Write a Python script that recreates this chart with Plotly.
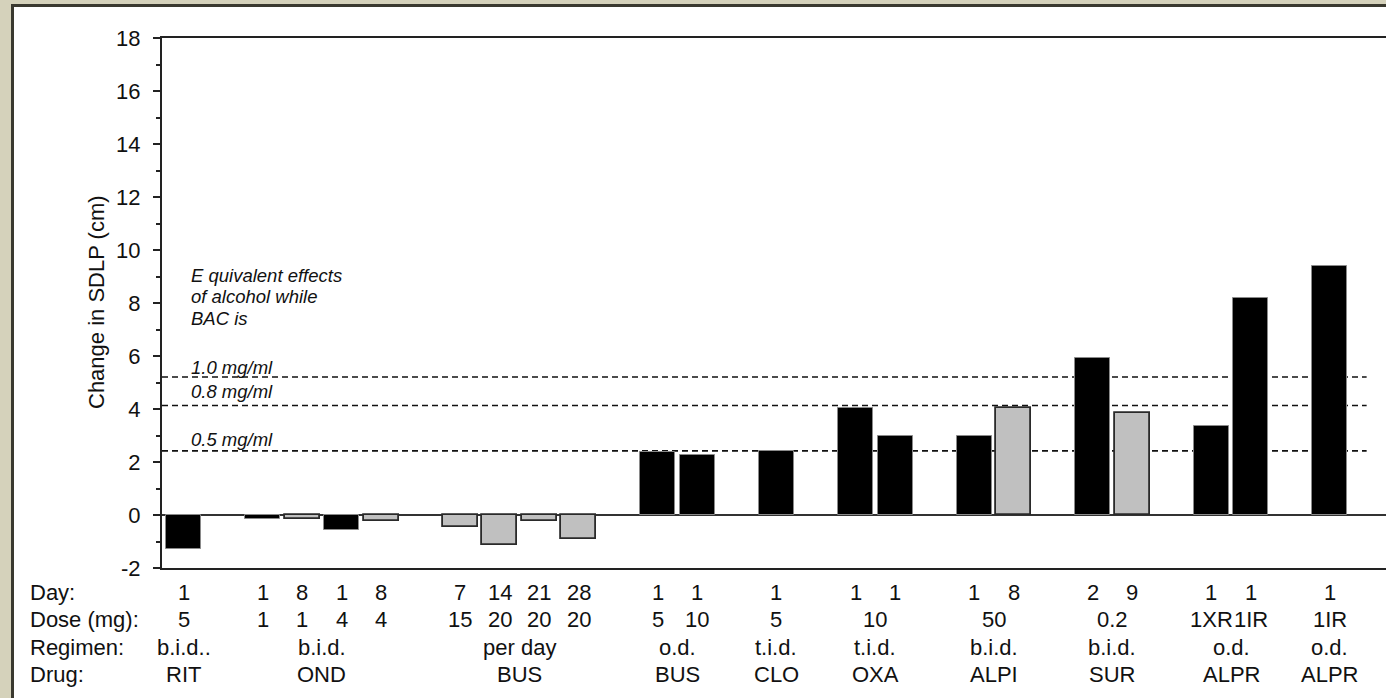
import plotly.graph_objects as go

# ---------------- data ----------------
drugs = ["RIT", "OND", "BUS", "BUS", "CLO", "OXA", "ALPI", "SUR", "ALPR", "ALPR"]
regimens = ["b.i.d..", "b.i.d.", "per day", "o.d.", "t.i.d.", "t.i.d.", "b.i.d.", "b.i.d.", "o.d.", "o.d."]
group_sizes = [1, 4, 4, 2, 1, 2, 2, 2, 2, 1]
days = ["1", "1", "8", "1", "8", "7", "14", "21", "28", "1", "1", "1", "1", "1", "1", "8", "2", "9", "1", "1", "1"]
doses = [["5"], ["1", "1", "4", "4"], ["15", "20", "20", "20"], ["5", "10"], ["5"],
         ["10"], ["50"], ["0.2"], ["1XR", "1IR"], ["1IR"]]
sdlp_change = [-1.30,
               -0.15, -0.15, -0.55, -0.22,
               -0.45, -1.15, -0.22, -0.92,
               2.38, 2.28,
               2.40,
               4.05, 2.98,
               2.98, 4.02,
               5.92, 3.85,
               3.34, 8.18,
               9.38]
# "A" = black bar, "R" = grey bar (repeated dosing)
bar_kind = ["A", "A", "R", "A", "R", "R", "R", "R", "R", "A", "A", "A", "A", "A", "A", "R", "A", "R", "A", "A", "A"]
bac_labels = ["1.0 mg/ml", "0.8 mg/ml", "0.5 mg/ml"]
bac_sdlp = [5.21, 4.13, 2.42]
y_ticks = [-2, 0, 2, 4, 6, 8, 10, 12, 14, 16, 18]
y_tick_text = ["-2", "0", "2", "4", "6", "8", "10", "12", "14", "16", "18"]
row_names = ["Day:", "Dose (mg):", "Regimen:", "Drug:"]
y_title = "Change in SDLP (cm)"
note_lines = ["E quivalent effects", "of alcohol while", "BAC is"]

# ---------------- layout constants ----------------
W, H = 1386, 698
L, T, R = 162, 38, 0
B = H - 568
PW, PH = W - L - R, H - T - B
FONT = "Liberation Sans, Arial, sans-serif"
TXT = "#111111"
FS = 22


def pxx(px):
    return (px - L) / PW


def pxy(py):
    return (H - B - py) / PH


# slot positions: one empty slot between groups
positions, group_pos = [], []
pos = 0
for n in group_sizes:
    ps = list(range(pos, pos + n))
    positions.extend(ps)
    group_pos.append(ps)
    pos += n + 1

slot_px = 39.53
x0 = -0.544
x_range = [x0, x0 + PW / slot_px]

fill_map = {"A": "#000000", "R": "#c0c0c0"}
line_map = {"A": "#8a8a8a", "R": "#2a2a2a"}
lw_map = {"A": 1, "R": 1.8}

fig = go.Figure()
for kind in ["A", "R"]:
    xs = [p for p, k in zip(positions, bar_kind) if k == kind]
    ys = [v for v, k in zip(sdlp_change, bar_kind) if k == kind]
    fig.add_trace(go.Bar(
        x=xs, y=ys, width=0.885,
        marker=dict(color=fill_map[kind], line=dict(color=line_map[kind], width=lw_map[kind])),
        showlegend=False, hoverinfo="x+y",
    ))

shapes = []
# outer frame
shapes.append(dict(type="rect", xref="paper", yref="paper",
                   x0=pxx(12.5), x1=pxx(1420), y0=pxy(5.5), y1=pxy(740),
                   fillcolor="white", line=dict(color="#3a392f", width=3), layer="below"))
# BAC reference lines
for v in bac_sdlp:
    shapes.append(dict(type="line", xref="x", yref="y", x0=x_range[0], x1=positions[-1] + 0.93,
                       y0=v, y1=v, line=dict(color="#111111", width=1.6, dash="6px,4px"), layer="below"))

annotations = []
# y-axis title
annotations.append(dict(text=y_title, xref="paper", yref="paper", x=pxx(96), y=pxy(302),
                        xanchor="center", yanchor="middle", textangle=-90, showarrow=False,
                        font=dict(family=FONT, size=FS, color=TXT)))
# note
for line, py in zip(note_lines, [275, 296.7, 318]):
    annotations.append(dict(text="<i>" + line + "</i>", xref="paper", yref="paper",
                            x=pxx(189), y=pxy(py), xanchor="left", yanchor="middle", align="left",
                            showarrow=False, font=dict(family=FONT, size=18.5, color=TXT)))
# BAC labels
bac_shift = [9, 14, 11]
for lab, v, s in zip(bac_labels, bac_sdlp, bac_shift):
    annotations.append(dict(text="<i>" + lab + "</i>", xref="paper", yref="y", x=pxx(189), y=v,
                            yshift=s, xanchor="left", yanchor="middle", showarrow=False,
                            font=dict(family=FONT, size=18.5, color=TXT)))

row_y = [pxy(592), pxy(619), pxy(647), pxy(674)]
for name, ry in zip(row_names, row_y):
    annotations.append(dict(text=name, xref="paper", yref="paper", x=pxx(28), y=ry,
                            xanchor="left", yanchor="middle", showarrow=False,
                            font=dict(family=FONT, size=FS, color=TXT)))


def row_ann(text, x, ry):
    return dict(text=text, xref="x", yref="paper", x=x, y=ry, xanchor="center", yanchor="middle",
                showarrow=False, font=dict(family=FONT, size=FS, color=TXT))


for p, d in zip(positions, days):
    annotations.append(row_ann(d, p, row_y[0]))
for gp, dl, reg, drug in zip(group_pos, doses, regimens, drugs):
    centre = sum(gp) / len(gp)
    if len(dl) == 1:
        annotations.append(row_ann(dl[0], centre, row_y[1]))
    else:
        for p, d in zip(gp, dl):
            annotations.append(row_ann(d, p, row_y[1]))
    annotations.append(row_ann(reg, centre, row_y[2]))
    annotations.append(row_ann(drug, centre, row_y[3]))

fig.update_layout(
    width=W, height=H,
    margin=dict(l=L, r=R, t=T, b=B, pad=0),
    paper_bgcolor="#d5d2bb",
    plot_bgcolor="white",
    bargap=0,
    shapes=shapes,
    annotations=annotations,
    font=dict(family=FONT, size=FS, color=TXT),
    xaxis=dict(range=x_range, showticklabels=False, ticks="", showgrid=False, zeroline=False,
               showline=True, linecolor="#222222", linewidth=2, mirror=True, fixedrange=True),
    yaxis=dict(range=[-2, 18], tickmode="array", tickvals=y_ticks, ticktext=y_tick_text,
               ticks="outside", ticklen=7, tickwidth=1.5,
               tickcolor="#222222", showgrid=False, showline=True, linecolor="#222222", linewidth=2,
               zeroline=True, zerolinecolor="#333333", zerolinewidth=1.6,
               ticklabelstandoff=8,
               tickfont=dict(family=FONT, size=FS, color=TXT),
               minor=dict(dtick=1, tick0=0, ticks="outside", ticklen=4, tickwidth=1.5, tickcolor="#222222",
                          showgrid=False),
               fixedrange=True),
)

fig.write_html("out.html", config={"displayModeBar": False},
               post_script="document.body.style.margin='0';document.body.style.overflow='hidden';")
